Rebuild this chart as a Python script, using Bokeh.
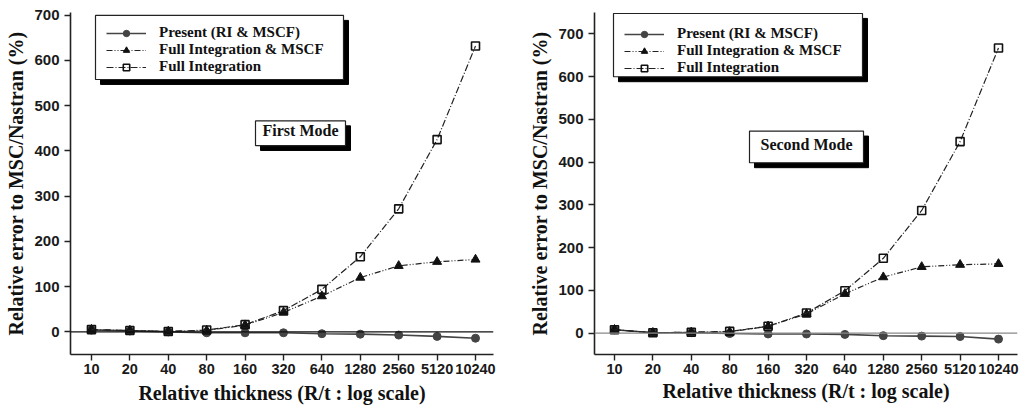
import math
from bokeh.plotting import figure
from bokeh.layouts import row
from bokeh.models import (Span, Label, Legend, LegendItem, FixedTicker,
                          PrintfTickFormatter, Range1d, BoxAnnotation)
from bokeh.embed import file_html
from bokeh.resources import INLINE

# ---------------- data ----------------
thickness = [10, 20, 40, 80, 160, 320, 640, 1280, 2560, 5120, 10240]

series_names = ["Present (RI & MSCF)", "Full Integration & MSCF", "Full Integration"]

first_present = [4, 2, 0, -2, -2, -2, -4, -5, -7, -10, -14]
first_fi_mscf = [5, 3, 1, 3, 15, 43, 79, 120, 146, 155, 160]
first_fi = [5, 3, 1, 4, 16, 47, 94, 166, 272, 425, 632]

second_present = [8, 1, 1, -1, -2, -2, -3, -6, -7, -8, -14]
second_fi_mscf = [8, 1, 2, 3, 16, 45, 92, 131, 155, 160, 162]
second_fi = [8, 1, 2, 4, 16, 47, 99, 175, 287, 448, 667]

y_ticks = [0, 100, 200, 300, 400, 500, 600, 700]

x_title = "Relative thickness (R/t : log scale)"
y_title = "Relative error to MSC/Nastran (%)"

SERIF = "Liberation Serif"
SANS = "Liberation Sans"
H = 415


def make_panel(present, fi_mscf, fi, mode_text, fig_left, width, x_rng, y_rng,
               frame_left, frame_top, frame_right, frame_bottom,
               legend_box, legend_loc, mode_box, ylab_standoff, xlab_standoff,
               zero_color):
    mb_left = frame_left - fig_left
    mb_right = fig_left + width - frame_right
    mb_top = frame_top
    mb_bottom = H - frame_bottom
    FW = frame_right - frame_left
    FH = frame_bottom - frame_top

    p = figure(width=width, height=H, x_axis_type="log",
               x_range=Range1d(*x_rng), y_range=Range1d(*y_rng),
               output_backend="svg", toolbar_location=None,
               min_border_left=mb_left, min_border_right=mb_right,
               min_border_top=mb_top, min_border_bottom=mb_bottom)
    p.outline_line_color = None
    p.grid.visible = False

    la, lb = math.log10(x_rng[0]), math.log10(x_rng[1])

    def xd(px):  # page pixel -> data x
        return 10 ** (la + (px - frame_left) / FW * (lb - la))

    def yd(py):  # page pixel -> data y
        return y_rng[1] - (py - frame_top) / FH * (y_rng[1] - y_rng[0])

    # axes
    p.xaxis.ticker = FixedTicker(ticks=thickness, minor_ticks=[])
    p.xaxis.formatter = PrintfTickFormatter(format="%d")
    p.yaxis.ticker = FixedTicker(ticks=y_ticks, minor_ticks=[])
    for ax in (p.xaxis, p.yaxis):
        ax.axis_line_color = "#222222"
        ax.axis_line_width = 1.6
        ax.major_tick_line_color = "#222222"
        ax.major_tick_line_width = 1.4
        ax.major_tick_out = 6
        ax.major_tick_in = 0
        ax.minor_tick_line_color = None
        ax.major_label_text_font = SANS
        ax.major_label_text_font_style = "bold"
        ax.major_label_text_color = "#1a1a1a"
        ax.axis_label_text_font = SERIF
        ax.axis_label_text_font_style = "bold"
        ax.axis_label_text_font_size = "20px"
        ax.axis_label_text_color = "#111111"
    p.xaxis.major_label_text_font_size = "14.5px"
    p.yaxis.major_label_text_font_size = "15px"
    p.xaxis.major_label_standoff = 3
    p.yaxis.major_label_standoff = 5
    p.xaxis.axis_label = x_title
    p.yaxis.axis_label = y_title
    p.xaxis.axis_label_standoff = xlab_standoff
    p.yaxis.axis_label_standoff = ylab_standoff

    # zero line
    p.add_layout(Span(location=0, dimension="width", line_color=zero_color,
                      line_width=1.2))

    # series
    l1 = p.line(thickness, present, line_color="#444444", line_width=1.6)
    s1 = p.scatter(thickness, present, marker="circle", size=8,
                   fill_color="#444444", line_color="#444444")
    l2 = p.line(thickness, fi_mscf, line_color="#222222", line_width=1.2,
                line_dash="6 2 1 2 1 2")
    s2 = p.scatter(thickness, fi_mscf, marker="triangle", size=9,
                   fill_color="#111111", line_color="#111111")
    l3 = p.line(thickness, fi, line_color="#222222", line_width=1.2,
                line_dash="7 2 1 2")
    s3 = p.scatter(thickness, fi, marker="square", size=8,
                   fill_color=None, line_color="#111111", line_width=1.6)
    groups = [[l1, s1], [l2, s2], [l3, s3]]

    # boxes with drop shadow
    def shadow_box(box, off):
        x0, y0, x1, y1 = box
        p.add_layout(BoxAnnotation(left=xd(x0 + off), right=xd(x1 + off),
                                   top=yd(y0 + off), bottom=yd(y1 + off),
                                   fill_color="black", fill_alpha=1.0,
                                   line_color="black", line_alpha=1.0))
        p.add_layout(BoxAnnotation(left=xd(x0), right=xd(x1),
                                   top=yd(y0), bottom=yd(y1),
                                   fill_color="white", fill_alpha=1.0,
                                   line_color="#222222", line_width=1.2,
                                   line_alpha=1.0))

    shadow_box(legend_box, 5)
    shadow_box(mode_box, 5)

    items = [LegendItem(label=n, renderers=g) for n, g in zip(series_names, groups)]
    lg = Legend(items=items, location=legend_loc, orientation="vertical",
                margin=0, padding=4, spacing=0, glyph_width=40, glyph_height=16,
                label_height=16, label_standoff=13,
                label_text_font=SERIF, label_text_font_style="bold",
                label_text_font_size="15px", label_text_color="#111111",
                background_fill_alpha=0.0, border_line_color=None)
    p.add_layout(lg, "center")

    mx0, my0, mx1, my1 = mode_box
    p.add_layout(Label(x=(mx0 + mx1) / 2 - frame_left,
                       y=frame_bottom - (my0 + my1) / 2,
                       x_units="screen", y_units="screen",
                       text=mode_text, text_font=SERIF, text_font_style="bold",
                       text_font_size="16px", text_align="center",
                       text_baseline="middle", text_color="#111111"))
    return p


p1 = make_panel(first_present, first_fi_mscf, first_fi, "First Mode",
                fig_left=0, width=510, x_rng=(6.85, 14170), y_rng=(-50, 706),
                frame_left=70, frame_top=12, frame_right=493, frame_bottom=359,
                legend_box=(95, 15, 343, 80), legend_loc=(36, 279),
                mode_box=(255, 122, 345, 147),
                ylab_standoff=4, xlab_standoff=5, zero_color="#111111")
p2 = make_panel(second_present, second_fi_mscf, second_fi, "Second Mode",
                fig_left=510, width=516, x_rng=(6.97, 14430), y_rng=(-50, 750),
                frame_left=594, frame_top=8, frame_right=1017, frame_bottom=354,
                legend_box=(613, 9, 862, 73), legend_loc=(30, 278),
                mode_box=(749, 128, 863, 160),
                ylab_standoff=4, xlab_standoff=3, zero_color="#888888")

layout = row(p1, p2, spacing=0)
open("out.html", "w").write(file_html(layout, INLINE))
